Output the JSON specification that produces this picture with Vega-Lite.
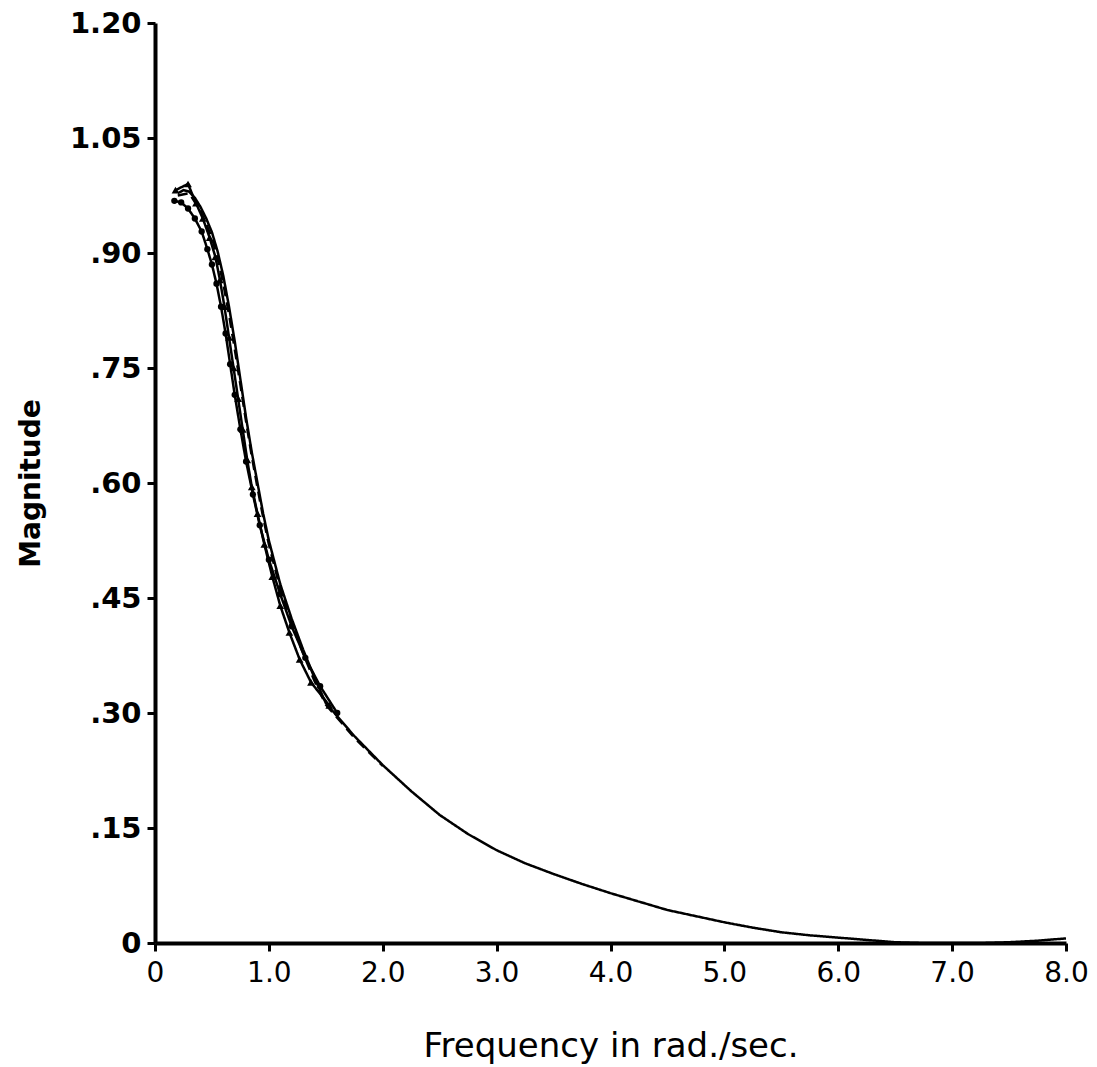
{
  "$schema": "https://vega.github.io/schema/vega-lite/v6.json",
  "width": 911,
  "height": 920,
  "autosize": {"type": "none"},
  "padding": {"left": 155, "top": 23, "right": 31, "bottom": 124},
  "background": "white",
  "config": {
    "view": {"stroke": null},
    "font": "DejaVu Sans",
    "axis": {
      "grid": false,
      "domainColor": "black",
      "domainWidth": 4,
      "tickColor": "black",
      "tickWidth": 3,
      "tickSize": 8,
      "labelColor": "black",
      "titleColor": "black",
      "labelFont": "DejaVu Sans",
      "titleFont": "DejaVu Sans"
    }
  },
  "datasets": {
    "curves": [
      {"series": "Continuous Model", "x": 0.2, "y": 0.978},
      {"series": "Continuous Model", "x": 0.25, "y": 0.982},
      {"series": "Continuous Model", "x": 0.3, "y": 0.98},
      {"series": "Continuous Model", "x": 0.35, "y": 0.972},
      {"series": "Continuous Model", "x": 0.4, "y": 0.96},
      {"series": "Continuous Model", "x": 0.45, "y": 0.945},
      {"series": "Continuous Model", "x": 0.5, "y": 0.927},
      {"series": "Continuous Model", "x": 0.55, "y": 0.902},
      {"series": "Continuous Model", "x": 0.6, "y": 0.87},
      {"series": "Continuous Model", "x": 0.65, "y": 0.83},
      {"series": "Continuous Model", "x": 0.7, "y": 0.785},
      {"series": "Continuous Model", "x": 0.75, "y": 0.735},
      {"series": "Continuous Model", "x": 0.8, "y": 0.685},
      {"series": "Continuous Model", "x": 0.85, "y": 0.64},
      {"series": "Continuous Model", "x": 0.9, "y": 0.6},
      {"series": "Continuous Model", "x": 0.95, "y": 0.56},
      {"series": "Continuous Model", "x": 1.0, "y": 0.525},
      {"series": "Continuous Model", "x": 1.1, "y": 0.468},
      {"series": "Continuous Model", "x": 1.2, "y": 0.423},
      {"series": "Continuous Model", "x": 1.3, "y": 0.383},
      {"series": "Continuous Model", "x": 1.4, "y": 0.346},
      {"series": "Continuous Model", "x": 1.5, "y": 0.313},
      {"series": "Continuous Model", "x": 1.75, "y": 0.27},
      {"series": "Continuous Model", "x": 2.0, "y": 0.232},
      {"series": "Continuous Model", "x": 2.25, "y": 0.198},
      {"series": "Continuous Model", "x": 2.5, "y": 0.167},
      {"series": "Continuous Model", "x": 2.75, "y": 0.142},
      {"series": "Continuous Model", "x": 3.0, "y": 0.121},
      {"series": "Continuous Model", "x": 3.25, "y": 0.104},
      {"series": "Continuous Model", "x": 3.5, "y": 0.09},
      {"series": "Continuous Model", "x": 3.75, "y": 0.077},
      {"series": "Continuous Model", "x": 4.0, "y": 0.065},
      {"series": "Continuous Model", "x": 4.25, "y": 0.054},
      {"series": "Continuous Model", "x": 4.5, "y": 0.043},
      {"series": "Continuous Model", "x": 4.75, "y": 0.035},
      {"series": "Continuous Model", "x": 5.0, "y": 0.027},
      {"series": "Continuous Model", "x": 5.25, "y": 0.02},
      {"series": "Continuous Model", "x": 5.5, "y": 0.014},
      {"series": "Continuous Model", "x": 5.75, "y": 0.01},
      {"series": "Continuous Model", "x": 6.0, "y": 0.007},
      {"series": "Continuous Model", "x": 6.25, "y": 0.004},
      {"series": "Continuous Model", "x": 6.5, "y": 0.001},
      {"series": "Continuous Model", "x": 6.75, "y": 0.0},
      {"series": "Continuous Model", "x": 7.0, "y": 0.0},
      {"series": "Continuous Model", "x": 7.25, "y": 0.0},
      {"series": "Continuous Model", "x": 7.5, "y": 0.001},
      {"series": "Continuous Model", "x": 7.75, "y": 0.003},
      {"series": "Continuous Model", "x": 8.0, "y": 0.006},

      {"series": "Present Method", "x": 0.18, "y": 0.982},
      {"series": "Present Method", "x": 0.29, "y": 0.99},
      {"series": "Present Method", "x": 0.36, "y": 0.965},
      {"series": "Present Method", "x": 0.42, "y": 0.945},
      {"series": "Present Method", "x": 0.48, "y": 0.92},
      {"series": "Present Method", "x": 0.53, "y": 0.895},
      {"series": "Present Method", "x": 0.57, "y": 0.865},
      {"series": "Present Method", "x": 0.61, "y": 0.83},
      {"series": "Present Method", "x": 0.65, "y": 0.79},
      {"series": "Present Method", "x": 0.69, "y": 0.75},
      {"series": "Present Method", "x": 0.73, "y": 0.71},
      {"series": "Present Method", "x": 0.77, "y": 0.67},
      {"series": "Present Method", "x": 0.81, "y": 0.63},
      {"series": "Present Method", "x": 0.85, "y": 0.595},
      {"series": "Present Method", "x": 0.9, "y": 0.56},
      {"series": "Present Method", "x": 0.96, "y": 0.52},
      {"series": "Present Method", "x": 1.03, "y": 0.478},
      {"series": "Present Method", "x": 1.1, "y": 0.44},
      {"series": "Present Method", "x": 1.18, "y": 0.405},
      {"series": "Present Method", "x": 1.27, "y": 0.37},
      {"series": "Present Method", "x": 1.37, "y": 0.34},
      {"series": "Present Method", "x": 1.53, "y": 0.31},

      {"series": "Discrete Frequency Matching Method", "x": 0.17, "y": 0.968},
      {"series": "Discrete Frequency Matching Method", "x": 0.23, "y": 0.966},
      {"series": "Discrete Frequency Matching Method", "x": 0.29, "y": 0.958},
      {"series": "Discrete Frequency Matching Method", "x": 0.35, "y": 0.945},
      {"series": "Discrete Frequency Matching Method", "x": 0.41, "y": 0.928},
      {"series": "Discrete Frequency Matching Method", "x": 0.46, "y": 0.905},
      {"series": "Discrete Frequency Matching Method", "x": 0.5, "y": 0.885},
      {"series": "Discrete Frequency Matching Method", "x": 0.54, "y": 0.86},
      {"series": "Discrete Frequency Matching Method", "x": 0.58, "y": 0.83},
      {"series": "Discrete Frequency Matching Method", "x": 0.62, "y": 0.795},
      {"series": "Discrete Frequency Matching Method", "x": 0.66, "y": 0.755},
      {"series": "Discrete Frequency Matching Method", "x": 0.7, "y": 0.715},
      {"series": "Discrete Frequency Matching Method", "x": 0.75, "y": 0.67},
      {"series": "Discrete Frequency Matching Method", "x": 0.8, "y": 0.628},
      {"series": "Discrete Frequency Matching Method", "x": 0.86, "y": 0.585},
      {"series": "Discrete Frequency Matching Method", "x": 0.92, "y": 0.545},
      {"series": "Discrete Frequency Matching Method", "x": 1.0, "y": 0.5},
      {"series": "Discrete Frequency Matching Method", "x": 1.1, "y": 0.455},
      {"series": "Discrete Frequency Matching Method", "x": 1.2, "y": 0.413},
      {"series": "Discrete Frequency Matching Method", "x": 1.32, "y": 0.372},
      {"series": "Discrete Frequency Matching Method", "x": 1.45, "y": 0.335},
      {"series": "Discrete Frequency Matching Method", "x": 1.6, "y": 0.3},

      {"series": "Tustin Transform", "x": 0.2, "y": 0.975},
      {"series": "Tustin Transform", "x": 0.3, "y": 0.978},
      {"series": "Tustin Transform", "x": 0.4, "y": 0.955},
      {"series": "Tustin Transform", "x": 0.5, "y": 0.92},
      {"series": "Tustin Transform", "x": 0.55, "y": 0.893},
      {"series": "Tustin Transform", "x": 0.6, "y": 0.86},
      {"series": "Tustin Transform", "x": 0.65, "y": 0.82},
      {"series": "Tustin Transform", "x": 0.7, "y": 0.775},
      {"series": "Tustin Transform", "x": 0.75, "y": 0.728},
      {"series": "Tustin Transform", "x": 0.8, "y": 0.68},
      {"series": "Tustin Transform", "x": 0.85, "y": 0.635},
      {"series": "Tustin Transform", "x": 0.9, "y": 0.594},
      {"series": "Tustin Transform", "x": 0.95, "y": 0.555},
      {"series": "Tustin Transform", "x": 1.0, "y": 0.52},
      {"series": "Tustin Transform", "x": 1.1, "y": 0.462},
      {"series": "Tustin Transform", "x": 1.2, "y": 0.417},
      {"series": "Tustin Transform", "x": 1.3, "y": 0.378},
      {"series": "Tustin Transform", "x": 1.4, "y": 0.342},
      {"series": "Tustin Transform", "x": 1.5, "y": 0.311},
      {"series": "Tustin Transform", "x": 1.75, "y": 0.268},
      {"series": "Tustin Transform", "x": 2.0, "y": 0.231}
    ]
  },
  "data": {"name": "curves"},
  "encoding": {
    "x": {
      "field": "x", "type": "quantitative",
      "scale": {"domain": [0, 8], "nice": false, "zero": false},
      "axis": {
        "values": [0, 1, 2, 3, 4, 5, 6, 7, 8],
        "labelExpr": "datum.value == 0 ? '0' : format(datum.value, '.1f')",
        "labelFontSize": 28,
        "labelFontWeight": "normal",
        "labelPadding": 8,
        "labelFlush": false,
        "title": "Frequency in rad./sec.",
        "titleFontSize": 34,
        "titleFontWeight": "normal",
        "titlePadding": 42
      }
    },
    "y": {
      "field": "y", "type": "quantitative",
      "scale": {"domain": [0, 1.2], "nice": false, "zero": false},
      "axis": {
        "values": [0, 0.15, 0.3, 0.45, 0.6, 0.75, 0.9, 1.05, 1.2],
        "labelExpr": "datum.value == 0 ? '0' : (datum.value >= 1 ? format(datum.value, '.2f') : substring(format(datum.value, '.2f'), 1))",
        "labelFontSize": 29,
        "labelFontWeight": "bold",
        "labelPadding": 6,
        "labelFlush": false,
        "title": "Magnitude",
        "titleFontSize": 28,
        "titleFontWeight": "bold",
        "titlePadding": 24
      }
    }
  },
  "layer": [
    {
      "mark": {"type": "line", "color": "black", "strokeWidth": 2.5, "clip": true},
      "encoding": {
        "detail": {"field": "series", "type": "nominal"},
        "strokeDash": {
          "field": "series",
          "type": "nominal",
          "scale": {
            "domain": ["Continuous Model", "Present Method", "Discrete Frequency Matching Method", "Tustin Transform"],
            "range": [[1, 0], [1, 0], [1, 0], [10, 6]]
          },
          "legend": null
        }
      }
    },
    {
      "transform": [{"filter": "datum.series == 'Present Method'"}],
      "mark": {"type": "point", "shape": "triangle-up", "filled": true, "color": "black", "size": 60, "opacity": 1}
    },
    {
      "transform": [{"filter": "datum.series == 'Discrete Frequency Matching Method'"}],
      "mark": {"type": "point", "shape": "circle", "filled": true, "color": "black", "size": 40, "opacity": 1}
    },
    {
      "transform": [
        {"aggregate": [{"op": "count", "as": "n"}], "groupby": ["series"]},
        {"filter": "datum.series == 'Continuous Model'"}
      ],
      "mark": {"type": "text", "font": "DejaVu Sans", "fontSize": 20, "fontWeight": "bold", "color": "black", "align": "left", "baseline": "middle"},
      "encoding": {"x": {"datum": 5.865}, "y": {"datum": 1.171}, "text": {"field": "series", "type": "nominal"}}
    },
    {
      "transform": [
        {"aggregate": [{"op": "count", "as": "n"}], "groupby": ["series"]},
        {"filter": "datum.series == 'Present Method'"}
      ],
      "mark": {"type": "text", "font": "DejaVu Sans", "fontSize": 20, "fontWeight": "bold", "color": "black", "align": "left", "baseline": "middle"},
      "encoding": {"x": {"datum": 5.865}, "y": {"datum": 1.132}, "text": {"field": "series", "type": "nominal"}}
    },
    {
      "transform": [
        {"aggregate": [{"op": "count", "as": "n"}], "groupby": ["series"]},
        {"filter": "datum.series == 'Discrete Frequency Matching Method'"}
      ],
      "mark": {"type": "text", "font": "DejaVu Sans", "fontSize": 20, "fontWeight": "bold", "color": "black", "align": "left", "baseline": "middle", "lineHeight": 22},
      "encoding": {"x": {"datum": 5.865}, "y": {"datum": 1.080}, "text": {"value": ["Discrete Frequency", "Matching Method"]}}
    },
    {
      "transform": [
        {"aggregate": [{"op": "count", "as": "n"}], "groupby": ["series"]},
        {"filter": "datum.series == 'Tustin Transform'"}
      ],
      "mark": {"type": "text", "font": "DejaVu Sans", "fontSize": 20, "fontWeight": "bold", "color": "black", "align": "left", "baseline": "middle"},
      "encoding": {"x": {"datum": 5.865}, "y": {"datum": 1.028}, "text": {"field": "series", "type": "nominal"}}
    },
    {
      "transform": [
        {"aggregate": [{"op": "count", "as": "n"}], "groupby": ["series"]},
        {"filter": "datum.series == 'Continuous Model'"}
      ],
      "mark": {"type": "rule", "color": "black", "strokeWidth": 2.5},
      "encoding": {"x": {"datum": 4.98}, "x2": {"datum": 5.75}, "y": {"datum": 1.171}}
    },
    {
      "transform": [
        {"aggregate": [{"op": "count", "as": "n"}], "groupby": ["series"]},
        {"filter": "datum.series == 'Present Method'"}
      ],
      "mark": {"type": "rule", "color": "black", "strokeWidth": 2.5},
      "encoding": {"x": {"datum": 4.98}, "x2": {"datum": 5.75}, "y": {"datum": 1.132}}
    },
    {
      "transform": [
        {"aggregate": [{"op": "count", "as": "n"}], "groupby": ["series"]},
        {"filter": "datum.series == 'Discrete Frequency Matching Method'"}
      ],
      "mark": {"type": "rule", "color": "black", "strokeWidth": 2.5},
      "encoding": {"x": {"datum": 4.98}, "x2": {"datum": 5.75}, "y": {"datum": 1.094}}
    },
    {
      "transform": [
        {"aggregate": [{"op": "count", "as": "n"}], "groupby": ["series"]},
        {"filter": "datum.series == 'Tustin Transform'"}
      ],
      "mark": {"type": "rule", "color": "black", "strokeWidth": 2.5, "strokeDash": [14, 8]},
      "encoding": {"x": {"datum": 4.98}, "x2": {"datum": 5.75}, "y": {"datum": 1.028}}
    }
  ]
}
